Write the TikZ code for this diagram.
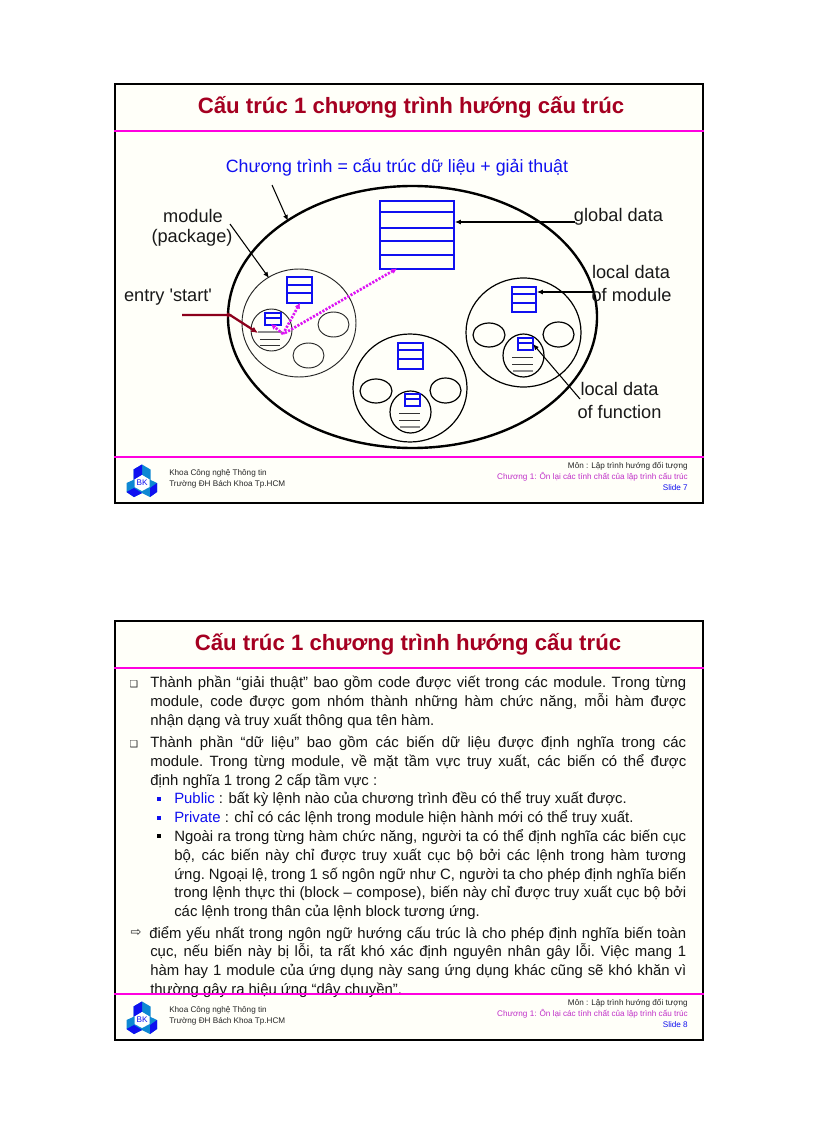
\documentclass[tikz,border=0pt]{standalone}
\usepackage{fontspec}
\setmainfont{Liberation Sans}
\newfontfamily\dejavu{DejaVu Sans}
\newfontfamily\lblfont{Liberation Sans}
\usetikzlibrary{arrows.meta,shapes.geometric}
\definecolor{titlered}{HTML}{A50021}
\definecolor{rulec}{HTML}{FF00E0}
\definecolor{bluey}{HTML}{1010F0}
\definecolor{dotm}{HTML}{DC14F4}
\definecolor{chap}{HTML}{C030C8}
\definecolor{slidebg}{HTML}{FFFFF9}
\newcommand{\pxfont}[1]{\fontsize{\dimexpr #1pt*3/4\relax}{\dimexpr #1pt\relax}\selectfont}
\tikzset{
  x=0.75pt,y=-0.75pt,
  frame/.style={draw=black,line width=1.8pt,fill=slidebg},
  rulel/.style={draw=rulec,line width=1.7pt},
  titlet/.style={font=\pxfont{22.2}\bfseries,text=titlered,inner sep=0pt},
  lbl/.style={font=\lblfont\pxfont{18.2},inner sep=0pt,text=black!90},
  bluehead/.style={font=\pxfont{17.8},text=bluey,inner sep=0pt},
  foot/.style={font=\pxfont{8.15},inner sep=0pt,text=black!85},
  body/.style={font=\pxfont{14.9},inner sep=0pt,anchor=base west,text=black!92},
  ovalb/.style={draw=black,line width=0.9pt,shape=ellipse,inner sep=0pt},
  thinoval/.style={draw=black!85,line width=0.7pt,shape=ellipse,inner sep=0pt},
  bigoval/.style={draw=black,line width=1.8pt,shape=ellipse,inner sep=0pt},
  store/.style={draw=bluey,line width=1.4pt,inner sep=0pt,anchor=north west},
  blueline/.style={draw=bluey,line width=1.1pt},
  codeline/.style={draw=black!80,line width=0.55pt},
  greyline/.style={draw=black!45,line width=0.8pt},
  ptr/.style={draw=black,line width=0.8pt,-{Latex[length=4.5pt,width=3.8pt]}},
  entry/.style={draw=titlered!85!black,line width=1.7pt,-{Latex[length=5pt,width=4.5pt]}},
  access/.style={draw=dotm,line width=2pt,dash pattern=on 1.6pt off 1.1pt,-{Latex[length=4pt,width=4.5pt]}},
  bulsolid/.style={fill=#1,minimum size=2.5pt,inner sep=0pt},
}
\newcommand{\logo}[1]{%
  \begin{scope}[shift={(142,#1)}]
    \fill[cyan!70!blue] (0,-16.5)--(8.5,-11.5)--(8.5,-1)--(0,-6)--(-8.5,-1)--(-8.5,-11.5)--cycle;
    \fill[bluey] (0,-16.5)--(-8.5,-11.5)--(-8.5,-1)--(0,-6)--cycle;
    \fill[cyan!70!blue] (-6.5,-2)--(0,3)--(0,12)--(-8,16)--(-15.5,11)--(-15.5,2)--cycle;
    \fill[bluey] (-15.5,11)--(-8,16)--(0,12)--(-8,7)--cycle;
    \fill[cyan!70!blue] (6.5,-2)--(15,2)--(15,11)--(8,16)--(0,12)--(0,3)--cycle;
    \fill[bluey] (8,16)--(15,11)--(15,2)--(8,7)--cycle;
    \fill[white] (0,-6)--(7.5,-1.5)--(7.5,6)--(0,10)--(-7.5,6)--(-7.5,-1.5)--cycle;
  \end{scope}}
% #1 y offset, #2 slide number, #3 title centre x, #4 name suffix, #5 frame height (pt)
\newcommand{\slidebase}[5]{%
  \node[frame,anchor=north west,minimum width=441pt,minimum height=#5pt,inner sep=0pt] (frame#4) at (114,83+#1) {};
  \path[rulel] (frame#4.west |- 0,131+#1) -- (frame#4.east |- 0,131+#1);
  \node[titlet] (title#4) at (#3,107+#1) {Cấu trúc 1 chương trình hướng cấu trúc};
  \logo{481+#1}
  \node[font=\pxfont{8.2},text=bluey,inner sep=0pt] (bk#4) at (142,483+#1) {BK};
  \node[foot,anchor=west] (fa#4) at (169,473.5+#1) {Khoa Công nghệ Thông tin};
  \node[foot,anchor=west] (fb#4) at (169,484.5+#1) {Trường ĐH Bách Khoa Tp.HCM};
  \node[foot,anchor=east] (fc#4) at (688,466+#1) {Môn : Lập trình hướng đối tượng};
  \node[foot,anchor=east,text=chap] (fd#4) at (688,477+#1) {Chương 1: Ôn lại các tính chất của lập trình cấu trúc};
  \node[foot,anchor=east,text=bluey] (fe#4) at (688,488+#1) {Slide #2};
}
% ellipse node: name, cx, cy, width, height (px), style
\newcommand{\ov}[6]{\node[#6,minimum width=#4*0.75pt,minimum height=#5*0.75pt] (#1) at (#2,#3) {};}
% store node: name, x0, y0, x1, y1
\newcommand{\st}[5]{\node[store,minimum width=(#4-#2)*0.75pt,minimum height=(#5-#3)*0.75pt] (#1) at (#2,#3) {};}
% justified line: name, x, baseline, text
\newcommand{\bl}[4]{%
  \pgfmathsetlengthmacro{\blw}{(686-#2)*0.75pt}%
  \node[body] (#1) at (#2,#3) {\hbox to \blw{\spaceskip=0.278em plus 1fil minus 0.1em\xspaceskip=\spaceskip\relax #4}};}
\newcommand{\pl}[4]{\node[body] (#1) at (#2,#3) {#4};}
\begin{document}
\begin{tikzpicture}
\useasboundingbox (0,0) rectangle (816,1123);
\fill[white] (0,0) rectangle (816,1123);
% ================= slide 7
\slidebase{0}{7}{411}{a}{314.25}
\path[rulel] (framea.west |- 0,457) -- (framea.east |- 0,457);
\node[bluehead] (head) at (397,167.5) {Chương trình = cấu trúc dữ liệu + giải thuật};
\ov{prog}{412.5}{317}{369}{262}{bigoval}
% module 1
\ov{modA}{299}{323}{114}{108}{thinoval}
\ov{fnA}{271.5}{330}{41}{42}{thinoval}
\ov{eA1}{333.5}{324.5}{31}{25}{thinoval}
\ov{eA2}{308.5}{355.5}{31}{25}{thinoval}
\st{sA}{286}{276}{311}{302}
\path[blueline] (286,285)--(311,285) (286,293)--(311,293);
\st{sAf}{264}{312}{280}{324}
\path[blueline] (264,318)--(280,318);
\path[greyline] (258,332)--(282,332);
\path[codeline] (260,339)--(280,339) (260,345)--(280,345);
% global data
\st{glob}{379}{200}{453}{268}
\path[blueline] (379,212)--(453,212) (379,228)--(453,228) (379,241)--(454,241) (379,255)--(453,255);
% module 2
\ov{modB}{523.5}{332.5}{115}{109}{ovalb}
\ov{fnB}{523.5}{355.5}{41}{43}{ovalb}
\ov{eB1}{489}{335}{32}{24}{ovalb}
\ov{eB2}{558.5}{334.5}{31}{25}{ovalb}
\st{sB}{511}{286}{535}{311}
\path[blueline] (511,294)--(535,294) (511,303)--(535,303);
\st{sBf}{517}{337}{532}{349}
\path[blueline] (517,343)--(532,343);
\path[codeline] (512,357)--(533,357) (512,364)--(533,364);
\path[greyline] (513,371)--(533,371);
% module 3
\ov{modC}{410}{388}{114}{108}{ovalb}
\ov{fnC}{410.5}{412}{41}{42}{ovalb}
\ov{eC1}{376}{391}{32}{24}{ovalb}
\ov{eC2}{445.5}{390.5}{31}{25}{ovalb}
\st{sC}{397}{342}{422}{368}
\path[blueline] (397,350)--(422,350) (397,359)--(422,359);
\st{sCf}{404}{393}{419}{405}
\path[blueline] (404,399)--(419,399);
\path[codeline] (399,413)--(420,413) (399,420)--(420,420);
\path[greyline] (400,427)--(420,427);
% labels
\node[lbl] (lmod) at (193,215.5) {module};
\node[lbl] (lpack) at (192,237.5) {(package)};
\node[lbl] (lentry) at (168,297.5) {entry 'start'};
\node[lbl] (lglob) at (618.5,217) {global data};
\node[lbl] (lm1) at (631,271.5) {local data};
\node[lbl] (lm2) at (631.5,294.5) {of module};
\node[lbl] (lf1) at (619.5,388.5) {local data};
\node[lbl] (lf2) at (619.5,411.5) {of function};
% connectors
\coordinate (cHead) at (272,185);
\coordinate (cProg) at (288,221);
\draw[ptr] (cHead) -- (cProg);
\coordinate (cPack) at (230,224);
\coordinate (cModA) at (269,278);
\draw[ptr] (cPack) -- (cModA);
\coordinate (cGlob) at (575,222);
\draw[ptr] (cGlob) -- (glob.east |- cGlob);
\coordinate (cLocM) at (593,292);
\draw[ptr] (cLocM) -- (sB.east |- cLocM);
\coordinate (cLocF) at (580,399);
\coordinate (cLocFe) at (533,344);
\draw[ptr] (cLocF) -- (cLocFe);
\coordinate (cEntry) at (182,315);
\coordinate (cBend) at (230,315);
\coordinate (cStart) at (258,333);
\draw[entry] (cEntry) -- (cBend) -- (cStart);
\fill[titlered!85!black] (cBend) ++(2,0) -- ++(-5,-2.5) -- ++(0,5) -- cycle;
\coordinate (cCall) at (283,334);
\coordinate (cCall2) at (285,333);
\draw[access] (cCall) -- (271,324);
\draw[access] (cCall) -- (300,303);
\draw[access] (cCall2) -- (397,268.5);
% ================= slide 8
\slidebase{537}{8}{408}{b}{314.25}
\bl{l1}{150}{687}{Thành phần “giải thuật” bao gồm code được viết trong các module. Trong từng}
\bl{l2}{150}{706}{module, code được gom nhóm thành những hàm chức năng, mỗi hàm được}
\pl{l3}{150}{725}{nhận dạng và truy xuất thông qua tên hàm.}
\bl{l4}{150}{747}{Thành phần “dữ liệu” bao gồm các biến dữ liệu được định nghĩa trong các}
\bl{l5}{150}{766}{module. Trong từng module, về mặt tầm vực truy xuất, các biến có thể được}
\pl{l6}{150}{785}{định nghĩa 1 trong 2 cấp tầm vực :}
\pl{l7}{174}{803.5}{\textcolor{bluey}{Public} : bất kỳ lệnh nào của chương trình đều có thể truy xuất được.}
\pl{l8}{174}{822.5}{\textcolor{bluey}{Private} : chỉ có các lệnh trong module hiện hành mới có thể truy xuất.}
\bl{l9}{174}{841}{Ngoài ra trong từng hàm chức năng, người ta có thể định nghĩa các biến cục}
\bl{l10}{174}{860}{bộ, các biến này chỉ được truy xuất cục bộ bởi các lệnh trong hàm tương}
\bl{l11}{174}{879}{ứng. Ngoại lệ, trong 1 số ngôn ngữ như C, người ta cho phép định nghĩa biến}
\bl{l12}{174}{897.5}{trong lệnh thực thi (block – compose), biến này chỉ được truy xuất cục bộ bởi}
\pl{l13}{174}{916.5}{các lệnh trong thân của lệnh block tương ứng.}
\bl{l14}{149}{938}{điểm yếu nhất trong ngôn ngữ hướng cấu trúc là cho phép định nghĩa biến toàn}
\bl{l15}{150}{956.5}{cục, nếu biến này bị lỗi, ta rất khó xác định nguyên nhân gây lỗi. Việc mang 1}
\bl{l16}{150}{975.5}{hàm hay 1 module của ứng dụng này sang ứng dụng khác cũng sẽ khó khăn vì}
\pl{l17}{150}{994}{thường gây ra hiệu ứng “dây chuyền”.}
\path[rulel] (frameb.west |- 0,994) -- (frameb.east |- 0,994);
\node[font=\dejavu\pxfont{9.5},inner sep=0pt,text=black!85] (ba) at (134,684) {❑};
\node[font=\dejavu\pxfont{9.5},inner sep=0pt,text=black!85] (bb) at (134,744) {❑};
\node[bulsolid=bluey] (bc) at (159,799) {};
\node[bulsolid=bluey] (bd) at (159,818) {};
\node[bulsolid=black] (be) at (159,836) {};
\node[font=\dejavu\pxfont{13},inner sep=0pt,text=black!85] (bf) at (136,933) {⇨};
\end{tikzpicture}
\end{document}
